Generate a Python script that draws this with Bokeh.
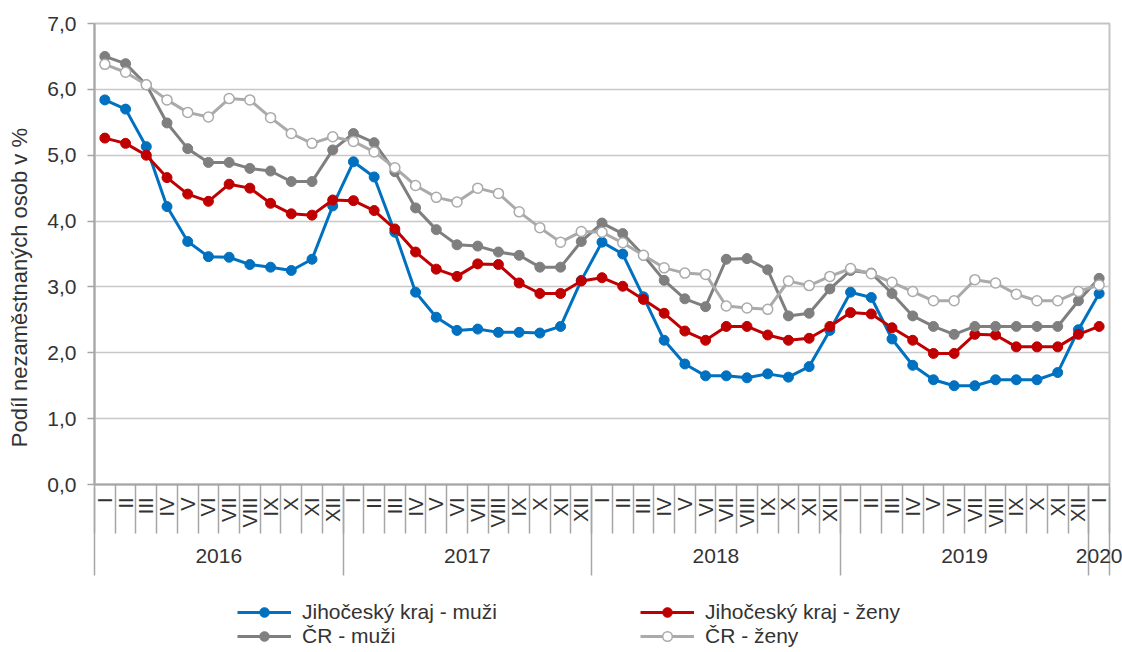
import math
from bokeh.plotting import figure
from bokeh.layouts import column
from bokeh.models import (ColumnDataSource, Range1d, LinearAxis, FixedTicker,
                          Legend, LegendItem)
from bokeh.embed import file_html
from bokeh.resources import INLINE

# ---- data -------------------------------------------------------------
months = ["I", "II", "III", "IV", "V", "VI", "VII", "VIII", "IX", "X", "XI", "XII"] * 4 + ["I"]
years = ["2016", "2017", "2018", "2019", "2020"]
year_len = [12, 12, 12, 12, 1]

jc_muzi = [5.84, 5.70, 5.13, 4.22, 3.69, 3.46, 3.45, 3.34, 3.30, 3.25, 3.42, 4.23,
           4.90, 4.67, 3.83, 2.92, 2.54, 2.34, 2.36, 2.31, 2.31, 2.30, 2.40, 3.10,
           3.68, 3.50, 2.85, 2.19, 1.83, 1.65, 1.65, 1.62, 1.68, 1.63, 1.79, 2.34,
           2.92, 2.84, 2.21, 1.81, 1.59, 1.50, 1.50, 1.59, 1.59, 1.59, 1.70, 2.35,
           2.90]
jc_zeny = [5.26, 5.18, 5.00, 4.66, 4.41, 4.30, 4.56, 4.50, 4.27, 4.11, 4.09, 4.32,
           4.31, 4.16, 3.88, 3.53, 3.27, 3.16, 3.35, 3.34, 3.06, 2.90, 2.90, 3.09,
           3.14, 3.01, 2.81, 2.60, 2.33, 2.19, 2.40, 2.40, 2.27, 2.19, 2.22, 2.40,
           2.61, 2.59, 2.38, 2.19, 1.99, 1.99, 2.28, 2.27, 2.09, 2.09, 2.09, 2.28,
           2.40]
cr_muzi = [6.50, 6.39, 6.07, 5.49, 5.10, 4.89, 4.89, 4.80, 4.76, 4.60, 4.60, 5.08,
           5.33, 5.19, 4.75, 4.20, 3.87, 3.64, 3.62, 3.53, 3.48, 3.30, 3.30, 3.69,
           3.97, 3.81, 3.48, 3.10, 2.82, 2.70, 3.42, 3.43, 3.26, 2.56, 2.60, 2.97,
           3.25, 3.21, 2.90, 2.56, 2.40, 2.28, 2.40, 2.40, 2.40, 2.40, 2.40, 2.79,
           3.13]
cr_zeny = [6.38, 6.26, 6.07, 5.84, 5.65, 5.58, 5.86, 5.84, 5.57, 5.33, 5.18, 5.28,
           5.21, 5.05, 4.81, 4.54, 4.36, 4.29, 4.50, 4.42, 4.14, 3.90, 3.68, 3.84,
           3.83, 3.67, 3.48, 3.29, 3.21, 3.19, 2.71, 2.68, 2.66, 3.09, 3.02, 3.16,
           3.28, 3.20, 3.07, 2.93, 2.79, 2.79, 3.11, 3.06, 2.89, 2.79, 2.79, 2.93,
           3.03]

y_ticks = [0, 1, 2, 3, 4, 5, 6, 7]
y_title = "Podíl nezaměstnaných osob v %"
series_names = ["Jihočeský kraj - muži", "Jihočeský kraj - ženy", "ČR - muži", "ČR - ženy"]

# ---- styling ----------------------------------------------------------
FONT = "Liberation Sans"
TXT = "#333333"
AX = "#a6a6a6"
BLUE, RED, DGRAY, LGRAY = "#0070c0", "#c00000", "#7f7f7f", "#aaaaaa"
W = 1122
FRAME_L, FRAME_R = 94, 1109

n = len(months)
idx = list(range(n))
src = ColumnDataSource(dict(x=idx, a=jc_muzi, b=jc_zeny, c=cr_muzi, d=cr_zeny))

p = figure(width=W, height=590, output_backend="svg", toolbar_location=None,
           x_range=Range1d(-0.5, n - 0.5), y_range=Range1d(0, 7),
           x_axis_location=None,
           min_border_left=FRAME_L, min_border_right=W - FRAME_R, min_border_top=23,
           min_border_bottom=106)
p.extra_x_ranges = {"yr": Range1d(-1, 2 * n - 1)}
p.outline_line_color = "#c4c4c4"
p.outline_line_width = 2
p.background_fill_color = "white"
p.border_fill_color = "white"

# y axis
ya = p.yaxis[0]
ya.ticker = FixedTicker(ticks=y_ticks)
ya.major_label_overrides = {t: f"{t},0" for t in y_ticks}
ya.major_tick_in = 0
ya.major_tick_out = 7
ya.minor_tick_line_color = None
ya.axis_line_color = AX
ya.axis_line_width = 2
ya.major_tick_line_color = AX
ya.major_tick_line_width = 1.5
ya.major_label_text_font = FONT
ya.major_label_text_font_size = "21px"
ya.major_label_text_color = TXT
ya.major_label_standoff = 11
# trailing no-break spaces move the visible title lower, as in the original
ya.axis_label = y_title + "\u00a0" * 11
ya.axis_label_text_font = FONT
ya.axis_label_text_font_size = "22px"
ya.axis_label_text_font_style = "normal"
ya.axis_label_text_color = TXT
ya.axis_label_standoff = 12
p.ygrid.grid_line_color = "#c8c8c8"
p.ygrid.grid_line_width = 1.3
p.xgrid.visible = False

# month axis: separators as minor ticks, labels pulled back up with negative standoff
xa = LinearAxis(ticker=FixedTicker(ticks=idx, minor_ticks=[i - 0.5 for i in range(n + 1)]),
                major_label_overrides={i: months[i] for i in idx},
                major_label_orientation=math.pi / 2,
                major_tick_in=0, major_tick_out=0,
                minor_tick_in=0, minor_tick_out=49,
                minor_tick_line_color=AX, minor_tick_line_width=1.5,
                axis_line_color=AX, axis_line_width=2,
                major_label_standoff=-36,
                major_label_text_font=FONT, major_label_text_font_size="20px",
                major_label_text_color=TXT)
p.add_layout(xa, "below")

# year axis (scaled index range so group centres are whole numbers)
bounds = [0]
for L in year_len:
    bounds.append(bounds[-1] + L)
yr_centres = [bounds[k] + bounds[k + 1] - 1 for k in range(len(years))]
yr_bounds = [2 * b - 1 for b in bounds]
ga = LinearAxis(x_range_name="yr",
                ticker=FixedTicker(ticks=yr_centres, minor_ticks=yr_bounds),
                major_label_overrides={c: y for c, y in zip(yr_centres, years)},
                major_tick_in=0, major_tick_out=0,
                minor_tick_in=43, minor_tick_out=45,
                minor_tick_line_color=AX, minor_tick_line_width=1.5,
                axis_line_color=None,
                major_label_standoff=-27,
                major_label_text_font=FONT, major_label_text_font_size="21px",
                major_label_text_color=TXT)
p.add_layout(ga, "below")

# series
cols = ["a", "b", "c", "d"]
colors = [BLUE, RED, DGRAY, LGRAY]


def add_series(fig, source):
    rs = []
    for col, colr in zip(cols, colors):
        lr = fig.line("x", col, source=source, line_color=colr, line_width=3)
        if col == "d":
            sr = fig.scatter("x", col, source=source, marker="circle", size=10,
                             fill_color="white", line_color=colr, line_width=1.5)
        else:
            sr = fig.scatter("x", col, source=source, marker="circle", size=10,
                             fill_color=colr, line_color=colr)
        rs.append([lr, sr])
    return rs


add_series(p, src)

# ---- legend strip (separate figure placed under the chart) --------------
# same series, but its ranges show none of them: only the legend is visible
lg = figure(width=W, height=60, output_backend="svg", toolbar_location=None,
            x_range=Range1d(-100, -99), y_range=Range1d(-100, -99),
            x_axis_location=None, y_axis_location=None,
            min_border_left=FRAME_L, min_border_right=W - FRAME_R,
            min_border_top=0, min_border_bottom=0, outline_line_color=None)
lg.grid.visible = False
lg_rs = add_series(lg, src)
items = [LegendItem(label=name, renderers=rs) for name, rs in zip(series_names, lg_rs)]

legend = Legend(items=items, ncols=2, orientation="horizontal",
                location=(237 - FRAME_L, 2), margin=0, padding=0,
                border_line_color=None, background_fill_alpha=0,
                glyph_width=54, glyph_height=24, label_standoff=11,
                label_width=338, spacing=0, label_height=24,
                label_text_font=FONT, label_text_font_size="21px",
                label_text_color=TXT)
lg.add_layout(legend, "center")

open("out.html", "w").write(file_html(column(p, lg, spacing=0), INLINE))
